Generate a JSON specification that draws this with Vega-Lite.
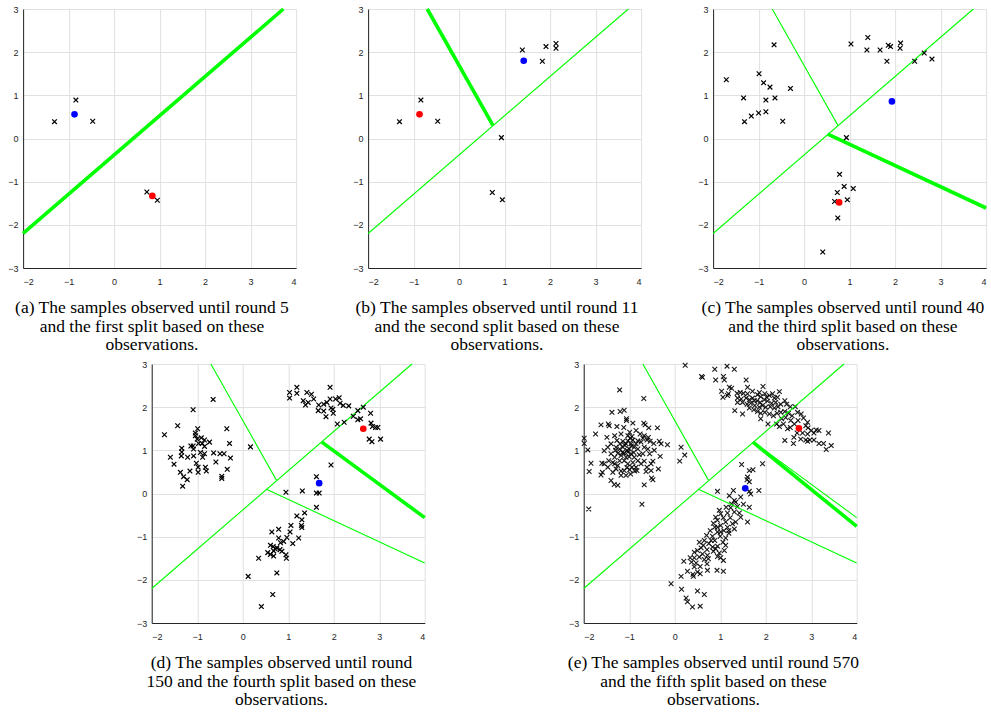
{
"$schema": "https://vega.github.io/schema/vega-lite/v6.json",
"padding": {"left": 7, "top": 5, "right": 0, "bottom": 5},
"config": {
  "view": {"stroke": null},
  "axis": {"grid": true, "gridColor": "#e0e0e0", "gridWidth": 1, "domainColor": "#262626", "domainWidth": 1, "ticks": false, "labelFont": "Liberation Sans", "labelFontSize": 9, "labelColor": "#262626"},
  "axisX": {"labelPadding": 9},
  "axisY": {"labelPadding": 5},
  "title": {"font": "Liberation Serif", "fontSize": 17.5, "fontWeight": "normal", "color": "#000000", "orient": "bottom", "anchor": "middle", "frame": "bounds", "lineHeight": 18.5, "offset": 13}
},
"datasets": {
  "splits_a": [{"x": -2, "y": -2.2, "x2": 3.72, "y2": 3, "kind": "new"}],
  "splits_b": [{"x": -2, "y": -2.2, "x2": 3.72, "y2": 3, "kind": "old"}, {"x": -0.70, "y": 3, "x2": 0.74, "y2": 0.31, "kind": "new"}],
  "splits_c": [{"x": -2, "y": -2.2, "x2": 3.72, "y2": 3, "kind": "old"}, {"x": -0.70, "y": 3, "x2": 0.74, "y2": 0.31, "kind": "old"}, {"x": 0.52, "y": 0.10, "x2": 4, "y2": -1.61, "kind": "new"}],
  "splits_d": [{"x": -2, "y": -2.2, "x2": 3.72, "y2": 3, "kind": "old"}, {"x": -0.70, "y": 3, "x2": 0.74, "y2": 0.31, "kind": "old"}, {"x": 0.52, "y": 0.10, "x2": 4, "y2": -1.61, "kind": "old"}, {"x": 1.74, "y": 1.19, "x2": 4, "y2": -0.56, "kind": "new"}],
  "splits_e": [{"x": -2, "y": -2.2, "x2": 3.72, "y2": 3, "kind": "old"}, {"x": -0.70, "y": 3, "x2": 0.74, "y2": 0.31, "kind": "old"}, {"x": 0.52, "y": 0.10, "x2": 4, "y2": -1.61, "kind": "old"}, {"x": 1.74, "y": 1.19, "x2": 4, "y2": -0.56, "kind": "old"}, {"x": 1.72, "y": 1.19, "x2": 4, "y2": -0.76, "kind": "new"}],
  "centers_a": [{"x": -0.87, "y": 0.56, "center": "blue"}, {"x": 0.84, "y": -1.33, "center": "red"}],
  "centers_b": [{"x": 1.42, "y": 1.80, "center": "blue"}, {"x": -0.87, "y": 0.56, "center": "red"}],
  "centers_c": [{"x": 1.93, "y": 0.86, "center": "blue"}, {"x": 0.77, "y": -1.48, "center": "red"}],
  "centers_d": [{"x": 1.68, "y": 0.24, "center": "blue"}, {"x": 2.65, "y": 1.50, "center": "red"}],
  "centers_e": [{"x": 1.55, "y": 0.12, "center": "blue"}, {"x": 2.73, "y": 1.51, "center": "red"}],
  "samples_a": [{"x": -0.84, "y": 0.89}, {"x": -1.31, "y": 0.39}, {"x": -0.47, "y": 0.40}, {"x": 0.72, "y": -1.24}, {"x": 0.95, "y": -1.43}],
  "samples_b": [{"x": 1.39, "y": 2.05}, {"x": 1.91, "y": 2.13}, {"x": 2.13, "y": 2.20}, {"x": 2.13, "y": 2.09}, {"x": 1.83, "y": 1.79}, {"x": -0.84, "y": 0.89}, {"x": -1.31, "y": 0.39}, {"x": -0.47, "y": 0.40}, {"x": 0.93, "y": 0.02}, {"x": 0.73, "y": -1.25}, {"x": 0.95, "y": -1.42}],
  "samples_c": [{"x": -1.71, "y": 1.36}, {"x": -0.99, "y": 1.50}, {"x": -0.66, "y": 2.17}, {"x": -1.33, "y": 0.94}, {"x": -0.89, "y": 1.29}, {"x": -0.75, "y": 1.19}, {"x": -0.30, "y": 1.16}, {"x": -0.84, "y": 0.89}, {"x": -0.64, "y": 0.94}, {"x": -1.31, "y": 0.39}, {"x": -1.16, "y": 0.52}, {"x": -1.00, "y": 0.59}, {"x": -0.84, "y": 0.62}, {"x": -0.47, "y": 0.40}, {"x": 1.03, "y": 2.19}, {"x": 1.40, "y": 2.34}, {"x": 1.38, "y": 2.05}, {"x": 1.67, "y": 2.05}, {"x": 1.85, "y": 2.16}, {"x": 1.90, "y": 2.13}, {"x": 2.12, "y": 2.21}, {"x": 2.11, "y": 2.09}, {"x": 1.82, "y": 1.79}, {"x": 2.43, "y": 1.79}, {"x": 2.64, "y": 1.98}, {"x": 2.81, "y": 1.84}, {"x": 0.93, "y": 0.02}, {"x": 0.78, "y": -0.83}, {"x": 0.88, "y": -1.11}, {"x": 1.08, "y": -1.16}, {"x": 0.73, "y": -1.25}, {"x": 0.95, "y": -1.42}, {"x": 0.67, "y": -1.46}, {"x": 0.74, "y": -1.84}, {"x": 0.41, "y": -2.63}],
  "samples_d": [{"x": -1.72, "y": 1.36}, {"x": -1.09, "y": 1.94}, {"x": -0.65, "y": 2.18}, {"x": -1.43, "y": 1.57}, {"x": -1.59, "y": 0.84}, {"x": -1.51, "y": 0.68}, {"x": -1.34, "y": 1.05}, {"x": -1.34, "y": 0.96}, {"x": -1.35, "y": 0.87}, {"x": -1.21, "y": 0.84}, {"x": -1.37, "y": 0.49}, {"x": -1.30, "y": 0.39}, {"x": -1.22, "y": 0.32}, {"x": -1.32, "y": 0.17}, {"x": -1.16, "y": 0.52}, {"x": -1.14, "y": 1.10}, {"x": -1.09, "y": 1.10}, {"x": -1.08, "y": 1.03}, {"x": -1.08, "y": 0.87}, {"x": -1.04, "y": 1.40}, {"x": -1.04, "y": 1.34}, {"x": -0.99, "y": 1.50}, {"x": -1.00, "y": 1.26}, {"x": -0.97, "y": 1.16}, {"x": -1.02, "y": 0.70}, {"x": -0.98, "y": 0.61}, {"x": -0.98, "y": 0.49}, {"x": -0.91, "y": 1.29}, {"x": -0.89, "y": 1.16}, {"x": -0.84, "y": 1.24}, {"x": -0.93, "y": 0.95}, {"x": -0.88, "y": 0.84}, {"x": -0.84, "y": 1.09}, {"x": -0.84, "y": 0.92}, {"x": -0.82, "y": 0.61}, {"x": -0.80, "y": 0.52}, {"x": -0.73, "y": 1.19}, {"x": -0.64, "y": 0.94}, {"x": -0.59, "y": 0.73}, {"x": -0.50, "y": 0.92}, {"x": -0.41, "y": 0.92}, {"x": -0.46, "y": 0.40}, {"x": -0.46, "y": 0.35}, {"x": -0.35, "y": 1.50}, {"x": -0.29, "y": 1.16}, {"x": -0.27, "y": 0.82}, {"x": -0.34, "y": 0.56}, {"x": 0.17, "y": 1.08},
    {"x": 1.03, "y": 2.34}, {"x": 1.03, "y": 2.21}, {"x": 1.19, "y": 2.46}, {"x": 1.19, "y": 2.32}, {"x": 1.33, "y": 2.15}, {"x": 1.41, "y": 2.34}, {"x": 1.51, "y": 2.30}, {"x": 1.38, "y": 2.05}, {"x": 1.44, "y": 2.11}, {"x": 1.56, "y": 2.19}, {"x": 1.67, "y": 2.05}, {"x": 1.66, "y": 1.92}, {"x": 1.78, "y": 2.07}, {"x": 1.78, "y": 1.91}, {"x": 1.83, "y": 1.78}, {"x": 1.85, "y": 2.11}, {"x": 1.92, "y": 2.19}, {"x": 1.92, "y": 2.46}, {"x": 1.94, "y": 1.98}, {"x": 1.98, "y": 1.95}, {"x": 1.99, "y": 1.86}, {"x": 2.04, "y": 2.19}, {"x": 2.12, "y": 2.22}, {"x": 2.14, "y": 2.09}, {"x": 2.08, "y": 1.61}, {"x": 2.21, "y": 2.04}, {"x": 2.33, "y": 2.03}, {"x": 2.23, "y": 1.65}, {"x": 2.43, "y": 1.79}, {"x": 2.53, "y": 1.92}, {"x": 2.53, "y": 1.71}, {"x": 2.59, "y": 1.73}, {"x": 2.65, "y": 2.00}, {"x": 2.81, "y": 1.86}, {"x": 2.82, "y": 1.63}, {"x": 2.85, "y": 1.55}, {"x": 2.92, "y": 1.53}, {"x": 2.97, "y": 1.53}, {"x": 2.78, "y": 1.26}, {"x": 2.84, "y": 1.20}, {"x": 3.03, "y": 1.26}, {"x": 1.94, "y": 0.66},
    {"x": 0.95, "y": 0.03}, {"x": 1.31, "y": 0.06}, {"x": 1.62, "y": 0.39}, {"x": 1.62, "y": 0.01}, {"x": 1.68, "y": 0.01}, {"x": 1.62, "y": -0.32}, {"x": 1.36, "y": -0.45}, {"x": 1.19, "y": -0.52}, {"x": 1.30, "y": -0.61}, {"x": 1.06, "y": -0.74}, {"x": 1.29, "y": -0.74}, {"x": 1.30, "y": -0.79}, {"x": 0.79, "y": -0.83}, {"x": 0.64, "y": -0.89}, {"x": 1.04, "y": -0.89}, {"x": 0.97, "y": -1.02}, {"x": 0.79, "y": -1.03}, {"x": 1.23, "y": -1.03}, {"x": 0.90, "y": -1.11}, {"x": 1.10, "y": -1.16}, {"x": 0.83, "y": -1.14}, {"x": 0.61, "y": -1.20}, {"x": 0.67, "y": -1.23}, {"x": 0.71, "y": -1.28}, {"x": 0.75, "y": -1.26}, {"x": 0.68, "y": -1.33}, {"x": 0.82, "y": -1.30}, {"x": 0.86, "y": -1.34}, {"x": 0.95, "y": -1.42}, {"x": 0.96, "y": -1.50}, {"x": 0.55, "y": -1.37}, {"x": 0.61, "y": -1.41}, {"x": 0.68, "y": -1.45}, {"x": 0.35, "y": -1.50}, {"x": 0.75, "y": -1.84}, {"x": 0.12, "y": -1.92}, {"x": 0.66, "y": -2.34}, {"x": 0.41, "y": -2.62}],
  "samples_e": [{"x": -1.21, "y": 2.40}, {"x": -0.68, "y": 2.20}, {"x": -1.38, "y": 1.88}, {"x": -1.20, "y": 1.90}, {"x": -1.11, "y": 1.93}, {"x": -1.62, "y": 1.59}, {"x": -1.46, "y": 1.61}, {"x": -1.44, "y": 1.57}, {"x": -1.27, "y": 1.55}, {"x": -1.12, "y": 1.53}, {"x": -1.06, "y": 1.73}, {"x": -1.06, "y": 1.69}, {"x": -0.92, "y": 1.63}, {"x": -0.68, "y": 1.63}, {"x": -0.65, "y": 1.59}, {"x": -0.57, "y": 1.52}, {"x": -0.38, "y": 1.52}, {"x": -1.74, "y": 1.38}, {"x": -1.99, "y": 1.28}, {"x": -1.99, "y": 1.16}, {"x": -1.91, "y": 1.01}, {"x": -1.84, "y": 0.70}, {"x": -1.88, "y": 0.51}, {"x": -1.89, "y": -0.36}, {"x": -1.59, "y": 0.49}, {"x": -1.62, "y": 0.43}, {"x": -1.60, "y": 0.70}, {"x": -1.55, "y": 0.99}, {"x": -1.49, "y": 1.30}, {"x": -1.32, "y": 1.34}, {"x": -1.27, "y": 1.23}, {"x": -1.18, "y": 1.38}, {"x": -1.03, "y": 1.34}, {"x": -0.99, "y": 1.42}, {"x": -0.94, "y": 1.32}, {"x": -0.85, "y": 1.46}, {"x": -0.76, "y": 1.38}, {"x": -0.67, "y": 1.34}, {"x": -0.61, "y": 1.24}, {"x": -0.54, "y": 1.21}, {"x": -0.46, "y": 1.16}, {"x": -0.34, "y": 1.21}, {"x": -0.30, "y": 1.15}, {"x": -0.16, "y": 1.13}, {"x": 0.14, "y": 1.07}, {"x": 0.22, "y": 0.89}, {"x": 0.11, "y": 0.75}, {"x": -0.32, "y": 0.86}, {"x": -0.48, "y": 0.75}, {"x": -0.61, "y": 0.61}, {"x": -0.52, "y": 0.53}, {"x": -0.36, "y": 0.57}, {"x": -0.51, "y": 0.36}, {"x": -0.48, "y": 0.32}, {"x": -0.67, "y": 0.20}, {"x": -0.72, "y": -0.25}, {"x": -1.33, "y": 0.21}, {"x": -1.25, "y": 0.19}, {"x": -1.40, "y": 0.30}, {"x": -1.36, "y": 0.49}, {"x": -1.29, "y": 0.57}, {"x": -1.18, "y": 0.52}, {"x": -1.11, "y": 0.53}, {"x": -0.99, "y": 0.55}, {"x": -0.94, "y": 0.61}, {"x": -0.83, "y": 0.53}, {"x": -0.74, "y": 0.69}, {"x": -0.67, "y": 0.75}, {"x": -0.81, "y": 0.76}, {"x": -0.89, "y": 0.84}, {"x": -0.96, "y": 0.92}, {"x": -1.03, "y": 0.96}, {"x": -1.11, "y": 0.93}, {"x": -1.18, "y": 0.88}, {"x": -1.25, "y": 0.93}, {"x": -1.32, "y": 0.84}, {"x": -1.40, "y": 0.92}, {"x": -1.45, "y": 0.76}, {"x": -1.36, "y": 0.72}, {"x": -1.21, "y": 0.76}, {"x": -1.11, "y": 0.76}, {"x": -1.03, "y": 0.69}, {"x": -1.14, "y": 1.07}, {"x": -1.07, "y": 1.15}, {"x": -0.96, "y": 1.15}, {"x": -0.89, "y": 1.07}, {"x": -0.81, "y": 1.03}, {"x": -0.74, "y": 1.19}, {"x": -0.67, "y": 1.07}, {"x": -0.59, "y": 1.03}, {"x": -0.70, "y": 0.92}, {"x": -0.55, "y": 0.92}, {"x": -1.00, "y": 1.03}, {"x": -1.21, "y": 1.03}, {"x": -1.29, "y": 1.07}, {"x": -1.40, "y": 1.15}, {"x": -1.47, "y": 1.07}, {"x": -0.92, "y": 1.24}, {"x": -0.81, "y": 1.22}, {"x": -1.03, "y": 1.22}, {"x": -1.14, "y": 1.21}, {"x": -1.07, "y": 0.84}, {"x": -0.92, "y": 0.72}, {"x": -0.85, "y": 0.61}, {"x": -1.18, "y": 0.42}, {"x": -1.07, "y": 0.42}, {"x": -0.97, "y": 0.45}, {"x": -1.25, "y": 0.65}, {"x": -1.32, "y": 0.69}, {"x": -0.63, "y": 0.51}, {"x": -0.52, "y": 0.69}, {"x": -0.45, "y": 1.00}, {"x": -1.55, "y": 0.69}, {"x": -1.47, "y": 0.61}, {"x": -1.05, "y": 1.00}, {"x": -0.95, "y": 1.10}, {"x": -1.15, "y": 0.95}, {"x": -0.90, "y": 0.95}, {"x": -1.00, "y": 0.85}, {"x": -1.10, "y": 1.12}, {"x": -0.85, "y": 1.15}, {"x": -1.20, "y": 1.15}, {"x": -0.78, "y": 0.90}, {"x": -0.98, "y": 1.28}, {"x": -1.05, "y": 0.60}, {"x": -0.88, "y": 0.52}, {"x": -1.30, "y": 1.00}, {"x": -0.70, "y": 1.28}, {"x": -0.58, "y": 1.30},
    {"x": 0.23, "y": 2.97}, {"x": 0.88, "y": 2.88}, {"x": 1.15, "y": 2.95}, {"x": 1.31, "y": 2.88}, {"x": 0.59, "y": 2.71}, {"x": 0.61, "y": 2.69}, {"x": 0.90, "y": 2.63}, {"x": 1.07, "y": 2.71}, {"x": 1.09, "y": 2.63}, {"x": 1.57, "y": 2.63}, {"x": 1.03, "y": 2.37}, {"x": 1.20, "y": 2.46}, {"x": 1.25, "y": 2.44}, {"x": 1.06, "y": 2.23}, {"x": 1.16, "y": 2.27}, {"x": 1.18, "y": 2.31}, {"x": 1.94, "y": 2.48}, {"x": 2.30, "y": 2.36}, {"x": 1.32, "y": 1.92}, {"x": 1.49, "y": 1.84}, {"x": 1.37, "y": 2.32}, {"x": 1.44, "y": 2.34}, {"x": 1.51, "y": 2.32}, {"x": 1.60, "y": 2.31}, {"x": 1.71, "y": 2.37}, {"x": 1.82, "y": 2.29}, {"x": 1.89, "y": 2.24}, {"x": 1.98, "y": 2.31}, {"x": 2.08, "y": 2.27}, {"x": 2.19, "y": 2.21}, {"x": 2.26, "y": 2.23}, {"x": 1.38, "y": 2.21}, {"x": 1.46, "y": 2.19}, {"x": 1.57, "y": 2.21}, {"x": 1.64, "y": 2.17}, {"x": 1.71, "y": 2.21}, {"x": 1.81, "y": 2.15}, {"x": 1.88, "y": 2.11}, {"x": 1.97, "y": 2.17}, {"x": 2.04, "y": 2.14}, {"x": 2.13, "y": 2.09}, {"x": 1.49, "y": 2.11}, {"x": 1.59, "y": 2.07}, {"x": 1.67, "y": 2.09}, {"x": 1.76, "y": 2.04}, {"x": 1.86, "y": 2.00}, {"x": 1.93, "y": 2.04}, {"x": 2.00, "y": 2.00}, {"x": 2.10, "y": 2.01}, {"x": 2.19, "y": 1.98}, {"x": 2.27, "y": 2.01}, {"x": 2.33, "y": 2.07}, {"x": 2.42, "y": 2.15}, {"x": 2.46, "y": 2.07}, {"x": 2.54, "y": 2.01}, {"x": 2.65, "y": 2.01}, {"x": 1.64, "y": 1.98}, {"x": 1.74, "y": 1.94}, {"x": 1.82, "y": 1.90}, {"x": 1.89, "y": 1.86}, {"x": 1.98, "y": 1.88}, {"x": 2.08, "y": 1.84}, {"x": 2.17, "y": 1.80}, {"x": 2.25, "y": 1.86}, {"x": 2.33, "y": 1.88}, {"x": 2.42, "y": 1.90}, {"x": 2.50, "y": 1.86}, {"x": 2.58, "y": 1.80}, {"x": 2.70, "y": 1.88}, {"x": 2.78, "y": 1.84}, {"x": 2.83, "y": 1.75}, {"x": 1.89, "y": 1.73}, {"x": 2.05, "y": 1.61}, {"x": 2.24, "y": 1.61}, {"x": 2.35, "y": 1.73}, {"x": 2.44, "y": 1.76}, {"x": 2.55, "y": 1.69}, {"x": 2.63, "y": 1.61}, {"x": 2.71, "y": 1.69}, {"x": 2.88, "y": 1.57}, {"x": 2.92, "y": 1.65}, {"x": 2.39, "y": 1.61}, {"x": 2.30, "y": 1.55}, {"x": 2.54, "y": 1.53}, {"x": 2.93, "y": 1.52}, {"x": 3.00, "y": 1.46}, {"x": 3.11, "y": 1.47}, {"x": 3.17, "y": 1.46}, {"x": 3.06, "y": 1.40}, {"x": 2.92, "y": 1.38}, {"x": 2.81, "y": 1.40}, {"x": 2.69, "y": 1.40}, {"x": 2.62, "y": 1.30}, {"x": 2.77, "y": 1.26}, {"x": 2.88, "y": 1.24}, {"x": 2.97, "y": 1.24}, {"x": 3.06, "y": 1.24}, {"x": 3.17, "y": 1.16}, {"x": 3.27, "y": 1.16}, {"x": 3.38, "y": 1.40}, {"x": 3.44, "y": 1.11}, {"x": 3.33, "y": 1.02}, {"x": 2.42, "y": 1.23}, {"x": 2.61, "y": 1.16}, {"x": 2.92, "y": 1.21}, {"x": 2.48, "y": 1.50}, {"x": 1.75, "y": 2.15}, {"x": 1.38, "y": 2.11}, {"x": 1.60, "y": 2.46}, {"x": 2.02, "y": 2.23}, {"x": 2.15, "y": 2.31}, {"x": 2.22, "y": 2.11}, {"x": 1.86, "y": 2.34},
    {"x": 1.47, "y": 0.67}, {"x": 1.93, "y": 0.69}, {"x": 1.64, "y": 0.53}, {"x": 1.72, "y": 0.55}, {"x": 1.60, "y": 0.38}, {"x": 1.59, "y": 0.32}, {"x": 1.64, "y": 0.27}, {"x": 1.85, "y": 0.07}, {"x": 1.64, "y": 0.05}, {"x": 1.67, "y": -0.01}, {"x": 1.45, "y": -0.08}, {"x": 1.64, "y": -0.32}, {"x": 1.60, "y": -0.66}, {"x": 0.94, "y": 0.05}, {"x": 1.29, "y": 0.07}, {"x": 1.20, "y": -0.05}, {"x": 1.31, "y": -0.16}, {"x": 1.25, "y": -0.24}, {"x": 1.38, "y": -0.30}, {"x": 1.51, "y": -0.25}, {"x": 1.13, "y": -0.32}, {"x": 0.98, "y": -0.39}, {"x": 1.16, "y": -0.45}, {"x": 1.31, "y": -0.43}, {"x": 1.42, "y": -0.45}, {"x": 1.45, "y": -0.55}, {"x": 1.07, "y": -0.56}, {"x": 1.22, "y": -0.56}, {"x": 0.94, "y": -0.62}, {"x": 1.12, "y": -0.66}, {"x": 1.27, "y": -0.70}, {"x": 1.34, "y": -0.66}, {"x": 1.01, "y": -0.74}, {"x": 0.88, "y": -0.78}, {"x": 1.16, "y": -0.78}, {"x": 1.31, "y": -0.82}, {"x": 0.78, "y": -0.86}, {"x": 0.94, "y": -0.89}, {"x": 1.08, "y": -0.86}, {"x": 1.19, "y": -0.92}, {"x": 0.70, "y": -0.97}, {"x": 0.83, "y": -0.99}, {"x": 1.00, "y": -0.99}, {"x": 1.12, "y": -1.03}, {"x": 0.88, "y": -1.09}, {"x": 1.06, "y": -1.13}, {"x": 0.75, "y": -1.16}, {"x": 0.63, "y": -1.20}, {"x": 0.94, "y": -1.22}, {"x": 0.83, "y": -1.24}, {"x": 0.71, "y": -1.30}, {"x": 0.58, "y": -1.26}, {"x": 0.50, "y": -1.32}, {"x": 0.85, "y": -1.34}, {"x": 0.98, "y": -1.38}, {"x": 1.09, "y": -1.32}, {"x": 0.94, "y": -1.46}, {"x": 1.01, "y": -1.49}, {"x": 0.72, "y": -1.43}, {"x": 0.61, "y": -1.40}, {"x": 0.54, "y": -1.47}, {"x": 0.65, "y": -1.53}, {"x": 0.71, "y": -1.63}, {"x": 0.74, "y": -1.51}, {"x": 0.43, "y": -1.49}, {"x": 0.34, "y": -1.49}, {"x": 0.37, "y": -1.59}, {"x": 0.20, "y": -1.57}, {"x": 0.47, "y": -1.61}, {"x": 0.56, "y": -1.69}, {"x": 0.43, "y": -1.70}, {"x": 0.50, "y": -1.82}, {"x": 0.28, "y": -1.80}, {"x": 0.40, "y": -1.87}, {"x": 0.41, "y": -1.92}, {"x": 0.72, "y": -1.78}, {"x": 0.56, "y": -1.86}, {"x": 0.93, "y": -1.78}, {"x": 1.07, "y": -1.80}, {"x": 0.14, "y": -1.92}, {"x": -0.08, "y": -2.09}, {"x": 0.15, "y": -2.22}, {"x": 0.25, "y": -2.42}, {"x": 0.28, "y": -2.51}, {"x": 0.39, "y": -2.63}, {"x": 0.56, "y": -2.61}, {"x": 0.50, "y": -2.26}, {"x": 0.65, "y": -2.34}, {"x": 1.01, "y": -0.89}, {"x": 0.85, "y": -0.69}, {"x": 0.90, "y": -0.55}, {"x": 1.01, "y": -0.47}, {"x": 1.23, "y": -0.33}, {"x": 1.34, "y": -0.20}, {"x": 1.19, "y": -0.86}, {"x": 0.94, "y": -0.78}, {"x": 0.80, "y": -1.09}, {"x": 0.65, "y": -1.09}, {"x": 0.54, "y": -1.13}, {"x": 0.43, "y": -1.36}, {"x": 0.90, "y": -1.28}, {"x": 1.12, "y": -1.20}, {"x": 1.07, "y": -1.55}]
},
"vconcat": [
  {"hconcat": [
    {"width": 273, "height": 259, "title": {"text": ["(a) The samples observed until round 5", "and the first split based on these", "observations."]},
     "encoding": {"x": {"field": "x", "type": "quantitative", "scale": {"domain": [-2, 4], "nice": false}, "axis": {"title": null, "values": [-2, -1, 0, 1, 2, 3, 4]}}, "y": {"field": "y", "type": "quantitative", "scale": {"domain": [-3, 3], "nice": false}, "axis": {"title": null, "values": [-3, -2, -1, 0, 1, 2, 3]}}},
     "layer": [
      {"data": {"name": "splits_a"}, "mark": {"type": "rule", "color": "#00ff00"}, "encoding": {"x2": {"field": "x2"}, "y2": {"field": "y2"}, "strokeWidth": {"field": "kind", "type": "nominal", "scale": {"domain": ["new", "old"], "range": [3.6, 1.1]}, "legend": null}}},
      {"data": {"name": "samples_a"}, "mark": {"type": "point", "shape": "M-1,-1L1,1M1,-1L-1,1", "size": 22, "filled": false, "stroke": "#000000", "strokeWidth": 1.2, "opacity": 1}},
      {"data": {"name": "centers_a"}, "mark": {"type": "circle", "size": 44, "opacity": 1}, "encoding": {"color": {"field": "center", "type": "nominal", "scale": {"domain": ["red", "blue"], "range": ["#ff0000", "#0000ff"]}, "legend": null}}}
     ]},
    {"width": 273, "height": 259, "title": {"text": ["(b) The samples observed until round 11", "and the second split based on these", "observations."]},
     "encoding": {"x": {"field": "x", "type": "quantitative", "scale": {"domain": [-2, 4], "nice": false}, "axis": {"title": null, "values": [-2, -1, 0, 1, 2, 3, 4]}}, "y": {"field": "y", "type": "quantitative", "scale": {"domain": [-3, 3], "nice": false}, "axis": {"title": null, "values": [-3, -2, -1, 0, 1, 2, 3]}}},
     "layer": [
      {"data": {"name": "splits_b"}, "mark": {"type": "rule", "color": "#00ff00"}, "encoding": {"x2": {"field": "x2"}, "y2": {"field": "y2"}, "strokeWidth": {"field": "kind", "type": "nominal", "scale": {"domain": ["new", "old"], "range": [3.6, 1.1]}, "legend": null}}},
      {"data": {"name": "samples_b"}, "mark": {"type": "point", "shape": "M-1,-1L1,1M1,-1L-1,1", "size": 22, "filled": false, "stroke": "#000000", "strokeWidth": 1.2, "opacity": 1}},
      {"data": {"name": "centers_b"}, "mark": {"type": "circle", "size": 44, "opacity": 1}, "encoding": {"color": {"field": "center", "type": "nominal", "scale": {"domain": ["red", "blue"], "range": ["#ff0000", "#0000ff"]}, "legend": null}}}
     ]},
    {"width": 273, "height": 259, "title": {"text": ["(c) The samples observed until round 40", "and the third split based on these", "observations."]},
     "encoding": {"x": {"field": "x", "type": "quantitative", "scale": {"domain": [-2, 4], "nice": false}, "axis": {"title": null, "values": [-2, -1, 0, 1, 2, 3, 4]}}, "y": {"field": "y", "type": "quantitative", "scale": {"domain": [-3, 3], "nice": false}, "axis": {"title": null, "values": [-3, -2, -1, 0, 1, 2, 3]}}},
     "layer": [
      {"data": {"name": "splits_c"}, "mark": {"type": "rule", "color": "#00ff00"}, "encoding": {"x2": {"field": "x2"}, "y2": {"field": "y2"}, "strokeWidth": {"field": "kind", "type": "nominal", "scale": {"domain": ["new", "old"], "range": [3.6, 1.1]}, "legend": null}}},
      {"data": {"name": "samples_c"}, "mark": {"type": "point", "shape": "M-1,-1L1,1M1,-1L-1,1", "size": 22, "filled": false, "stroke": "#000000", "strokeWidth": 1.2, "opacity": 1}},
      {"data": {"name": "centers_c"}, "mark": {"type": "circle", "size": 44, "opacity": 1}, "encoding": {"color": {"field": "center", "type": "nominal", "scale": {"domain": ["red", "blue"], "range": ["#ff0000", "#0000ff"]}, "legend": null}}}
     ]}
  ], "spacing": 72, "bounds": "flush"},
  {"hconcat": [
    {"width": 273, "height": 259, "title": {"text": ["(d) The samples observed until round", "150 and the fourth split based on these", "observations."]},
     "encoding": {"x": {"field": "x", "type": "quantitative", "scale": {"domain": [-2, 4], "nice": false}, "axis": {"title": null, "values": [-2, -1, 0, 1, 2, 3, 4]}}, "y": {"field": "y", "type": "quantitative", "scale": {"domain": [-3, 3], "nice": false}, "axis": {"title": null, "values": [-3, -2, -1, 0, 1, 2, 3]}}},
     "layer": [
      {"data": {"name": "splits_d"}, "mark": {"type": "rule", "color": "#00ff00"}, "encoding": {"x2": {"field": "x2"}, "y2": {"field": "y2"}, "strokeWidth": {"field": "kind", "type": "nominal", "scale": {"domain": ["new", "old"], "range": [3.6, 1.1]}, "legend": null}}},
      {"data": {"name": "samples_d"}, "mark": {"type": "point", "shape": "M-1,-1L1,1M1,-1L-1,1", "size": 22, "filled": false, "stroke": "#000000", "strokeWidth": 1.2, "opacity": 1}},
      {"data": {"name": "centers_d"}, "mark": {"type": "circle", "size": 44, "opacity": 1}, "encoding": {"color": {"field": "center", "type": "nominal", "scale": {"domain": ["red", "blue"], "range": ["#ff0000", "#0000ff"]}, "legend": null}}}
     ]},
    {"width": 273, "height": 259, "title": {"text": ["(e) The samples observed until round 570", "and the fifth split based on these", "observations."]},
     "encoding": {"x": {"field": "x", "type": "quantitative", "scale": {"domain": [-2, 4], "nice": false}, "axis": {"title": null, "values": [-2, -1, 0, 1, 2, 3, 4]}}, "y": {"field": "y", "type": "quantitative", "scale": {"domain": [-3, 3], "nice": false}, "axis": {"title": null, "values": [-3, -2, -1, 0, 1, 2, 3]}}},
     "layer": [
      {"data": {"name": "samples_e"}, "mark": {"type": "point", "shape": "M-1,-1L1,1M1,-1L-1,1", "size": 22, "filled": false, "stroke": "#000000", "strokeWidth": 1.1, "opacity": 0.9}},
      {"data": {"name": "splits_e"}, "mark": {"type": "rule", "color": "#00ff00"}, "encoding": {"x2": {"field": "x2"}, "y2": {"field": "y2"}, "strokeWidth": {"field": "kind", "type": "nominal", "scale": {"domain": ["new", "old"], "range": [3.6, 1.1]}, "legend": null}}},
      {"data": {"name": "centers_e"}, "mark": {"type": "circle", "size": 44, "opacity": 1}, "encoding": {"color": {"field": "center", "type": "nominal", "scale": {"domain": ["red", "blue"], "range": ["#ff0000", "#0000ff"]}, "legend": null}}}
     ]}
  ], "spacing": 159, "bounds": "flush"}
], "spacing": 6, "center": true
}
